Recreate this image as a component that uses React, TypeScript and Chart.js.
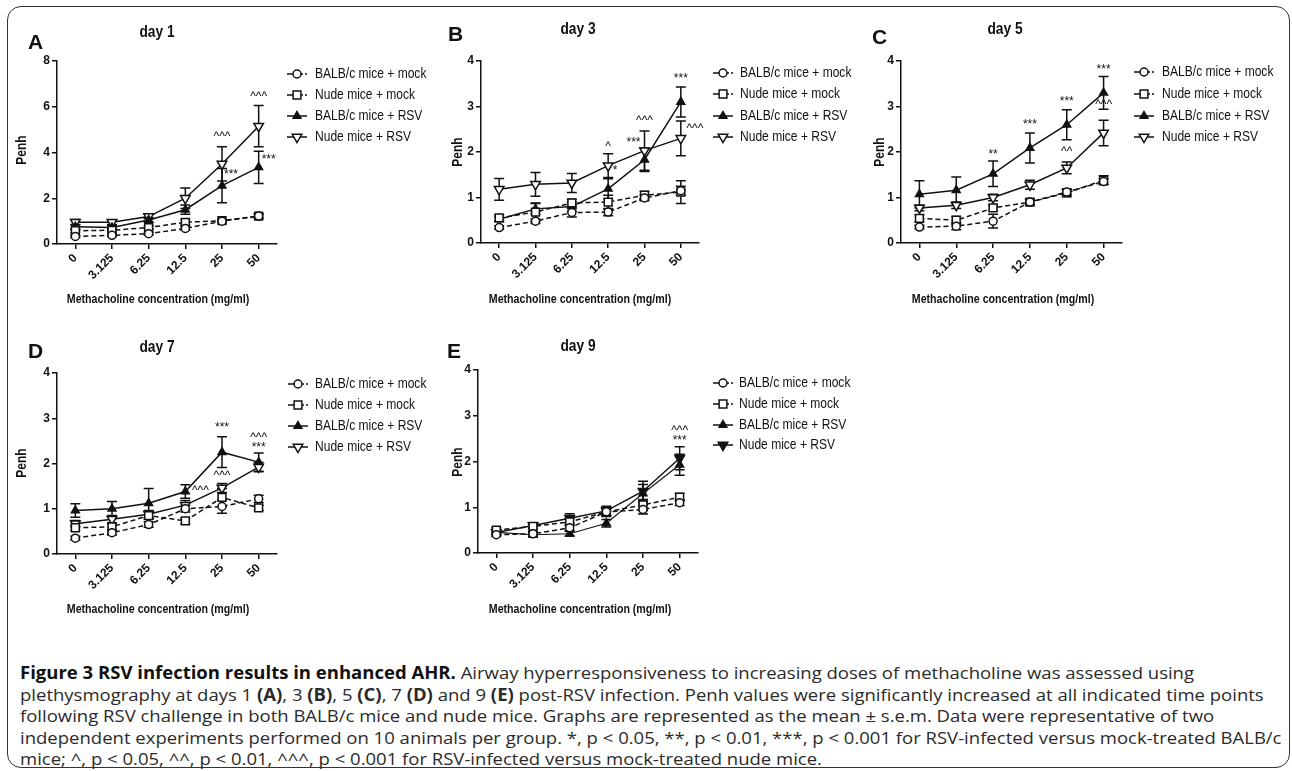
import React, { useEffect, useRef, useLayoutEffect, useState } from 'react';
import { Chart, registerables } from 'chart.js';

Chart.register(...registerables);

// ---------- data ----------
const doses = ['0', '3.125', '6.25', '12.5', '25', '50'];
const groupNames = ['BALB/c mice + mock', 'Nude mice + mock', 'BALB/c mice + RSV', 'Nude mice + RSV'];
const axisTitleX = 'Methacholine concentration (mg/ml)';
const axisTitleY = 'Penh';

// Day 1 (A)
const day1BalbMock = [0.33, 0.38, 0.45, 0.68, 1.0, 1.22];
const day1BalbMockSem = [0.05, 0.05, 0.06, 0.08, 0.06, 0.08];
const day1NudeMock = [0.58, 0.6, 0.72, 0.95, 1.02, 1.22];
const day1NudeMockSem = [0.08, 0.08, 0.08, 0.12, 0.06, 0.1];
const day1BalbRsv = [0.75, 0.72, 1.05, 1.5, 2.55, 3.35];
const day1BalbRsvSem = [0.1, 0.1, 0.1, 0.2, 0.75, 0.7];
const day1NudeRsv = [0.95, 0.95, 1.2, 2.0, 3.5, 5.15];
const day1NudeRsvSem = [0.12, 0.1, 0.1, 0.45, 0.75, 0.9];
const day1Notes = [
  { dose: 4, y: 4.68, text: '^^^', dx: 0 },
  { dose: 5, y: 6.42, text: '^^^', dx: 0 },
  { dose: 4, y: 3.05, text: '***', dx: 9 },
  { dose: 5, y: 3.68, text: '***', dx: 10 },
];

// Day 3 (B)
const day3BalbMock = [0.34, 0.48, 0.67, 0.68, 0.99, 1.15];
const day3BalbMockSem = [0.04, 0.05, 0.1, 0.08, 0.06, 0.1];
const day3NudeMock = [0.55, 0.68, 0.88, 0.9, 1.05, 1.12];
const day3NudeMockSem = [0.06, 0.2, 0.08, 0.15, 0.08, 0.25];
const day3BalbRsv = [0.52, 0.75, 0.8, 1.19, 1.83, 3.1];
const day3BalbRsvSem = [0.05, 0.12, 0.1, 0.22, 0.26, 0.33];
const day3NudeRsv = [1.18, 1.29, 1.32, 1.7, 2.03, 2.3];
const day3NudeRsvSem = [0.24, 0.26, 0.21, 0.26, 0.43, 0.38];
const day3Notes = [
  { dose: 5, y: 3.62, text: '***', dx: 0 },
  { dose: 4, y: 2.68, text: '^^^', dx: 0 },
  { dose: 5, y: 2.52, text: '^^^', dx: 14 },
  { dose: 4, y: 2.2, text: '***', dx: -11 },
  { dose: 3, y: 2.12, text: '^', dx: 0 },
  { dose: 3, y: 1.6, text: '*', dx: 7 },
];

// Day 5 (C)
const day5BalbMock = [0.35, 0.37, 0.48, 0.9, 1.12, 1.35];
const day5BalbMockSem = [0.04, 0.08, 0.15, 0.06, 0.06, 0.06];
const day5NudeMock = [0.54, 0.5, 0.77, 0.9, 1.1, 1.38];
const day5NudeMockSem = [0.08, 0.08, 0.06, 0.06, 0.08, 0.1];
const day5BalbRsv = [1.07, 1.16, 1.52, 2.09, 2.6, 3.3];
const day5BalbRsvSem = [0.3, 0.29, 0.28, 0.33, 0.33, 0.36];
const day5NudeRsv = [0.77, 0.83, 1.0, 1.28, 1.65, 2.42];
const day5NudeRsvSem = [0.06, 0.07, 0.07, 0.1, 0.13, 0.28];
const day5Notes = [
  { dose: 2, y: 1.93, text: '**', dx: 0 },
  { dose: 3, y: 2.59, text: '***', dx: 0 },
  { dose: 4, y: 3.1, text: '***', dx: 0 },
  { dose: 5, y: 3.8, text: '***', dx: 0 },
  { dose: 4, y: 2.0, text: '^^', dx: 0 },
  { dose: 5, y: 3.03, text: '^^^', dx: 0 },
];

// Day 7 (D)
const day7BalbMock = [0.35, 0.47, 0.65, 1.0, 1.05, 1.22];
const day7BalbMockSem = [0.04, 0.05, 0.06, 0.07, 0.15, 0.08];
const day7NudeMock = [0.58, 0.6, 0.85, 0.73, 1.25, 1.02];
const day7NudeMockSem = [0.06, 0.06, 0.08, 0.06, 0.2, 0.06];
const day7BalbRsv = [0.96, 1.0, 1.12, 1.38, 2.25, 2.03];
const day7BalbRsvSem = [0.15, 0.16, 0.33, 0.15, 0.34, 0.2];
const day7NudeRsv = [0.67, 0.77, 0.88, 1.08, 1.46, 1.92];
const day7NudeRsvSem = [0.07, 0.08, 0.08, 0.1, 0.1, 0.1];
const day7Notes = [
  { dose: 4, y: 2.8, text: '***', dx: 0 },
  { dose: 5, y: 2.58, text: '^^^', dx: 0 },
  { dose: 5, y: 2.36, text: '***', dx: 0 },
  { dose: 4, y: 1.72, text: '^^^', dx: 0 },
  { dose: 3, y: 1.4, text: '^^^', dx: 15 },
];

// Day 9 (E)
const day9BalbMock = [0.4, 0.42, 0.55, 0.9, 0.95, 1.1];
const day9BalbMockSem = [0.04, 0.05, 0.06, 0.08, 0.1, 0.06];
const day9NudeMock = [0.5, 0.58, 0.68, 0.9, 1.05, 1.22];
const day9NudeMockSem = [0.05, 0.05, 0.08, 0.1, 0.12, 0.08];
const day9BalbRsv = [0.45, 0.4, 0.42, 0.65, 1.3, 1.93];
const day9BalbRsvSem = [0.05, 0.05, 0.05, 0.08, 0.2, 0.23];
const day9NudeRsv = [0.45, 0.6, 0.76, 0.92, 1.35, 2.07];
const day9NudeRsvSem = [0.05, 0.06, 0.1, 0.1, 0.22, 0.25];
const day9Notes = [
  { dose: 5, y: 2.68, text: '^^^', dx: 0 },
  { dose: 5, y: 2.46, text: '***', dx: 0 },
];

// ---------- style / layout ----------
const INK = '#111';
const SANS = "'Liberation Sans', Arial, sans-serif";
const TICK_FONT = "'Liberation Sans Narrow', 'Liberation Sans', Arial, sans-serif";
const COND = 0.86;
// width of the widest caption line (line 4) in the reference
const captionWidestLine = 1262;

const markerStyles = [
  { shape: 'circle', rot: 0, r: 4, filled: false, dash: [5, 3] },
  { shape: 'rect', rot: 0, r: 5.5, filled: false, dash: [5, 3] },
  { shape: 'triangle', rot: 0, r: 4.5, filled: true, dash: [] },
  { shape: 'triangle', rot: 180, r: 5.5, filled: false, dash: [] },
];

const panels = [
  {
    letter: 'A', title: 'day 1', left: 10, top: 8, width: 420, height: 300,
    yAxisW: 47, padTop: 53, padRight: 153, xAxisH: 64, yMax: 8, yStep: 2,
    series: [day1BalbMock, day1NudeMock, day1BalbRsv, day1NudeRsv],
    sems: [day1BalbMockSem, day1NudeMockSem, day1BalbRsvSem, day1NudeRsvSem],
    notes: day1Notes,
    letterPos: [28, 43], titlePos: [157, 33], penhPos: [22, 150], xTitlePos: [158, 299],
    legendMarkX: 297, legendTextX: 315, legendY: [74, 95, 116, 137], filledNude: false,
  },
  {
    letter: 'B', title: 'day 3', left: 430, top: 8, width: 430, height: 300,
    yAxisW: 51, padTop: 53, padRight: 161, xAxisH: 65, yMax: 4, yStep: 1,
    series: [day3BalbMock, day3NudeMock, day3BalbRsv, day3NudeRsv],
    sems: [day3BalbMockSem, day3NudeMockSem, day3BalbRsvSem, day3NudeRsvSem],
    notes: day3Notes,
    letterPos: [448, 35], titlePos: [578, 30], penhPos: [458, 152], xTitlePos: [580, 299],
    legendMarkX: 723, legendTextX: 740, legendY: [73, 94, 116, 137], filledNude: false,
  },
  {
    letter: 'C', title: 'day 5', left: 860, top: 8, width: 430, height: 300,
    yAxisW: 41, padTop: 53, padRight: 168, xAxisH: 65, yMax: 4, yStep: 1,
    series: [day5BalbMock, day5NudeMock, day5BalbRsv, day5NudeRsv],
    sems: [day5BalbMockSem, day5NudeMockSem, day5BalbRsvSem, day5NudeRsvSem],
    notes: day5Notes,
    letterPos: [872, 38], titlePos: [1005, 30], penhPos: [880, 152], xTitlePos: [1003, 299],
    legendMarkX: 1144, legendTextX: 1162, legendY: [72, 94, 116, 137], filledNude: false,
  },
  {
    letter: 'D', title: 'day 7', left: 10, top: 318, width: 420, height: 310,
    yAxisW: 47, padTop: 55, padRight: 153, xAxisH: 74, yMax: 4, yStep: 1,
    series: [day7BalbMock, day7NudeMock, day7BalbRsv, day7NudeRsv],
    sems: [day7BalbMockSem, day7NudeMockSem, day7BalbRsvSem, day7NudeRsvSem],
    notes: day7Notes,
    letterPos: [28, 352], titlePos: [157, 348], penhPos: [22, 463], xTitlePos: [158, 609],
    legendMarkX: 298, legendTextX: 315, legendY: [384, 405, 426, 447], filledNude: false,
  },
  {
    letter: 'E', title: 'day 9', left: 430, top: 318, width: 430, height: 310,
    yAxisW: 48, padTop: 52, padRight: 162, xAxisH: 75, yMax: 4, yStep: 1,
    series: [day9BalbMock, day9NudeMock, day9BalbRsv, day9NudeRsv],
    sems: [day9BalbMockSem, day9NudeMockSem, day9BalbRsvSem, day9NudeRsvSem],
    notes: day9Notes,
    letterPos: [447, 352], titlePos: [578, 347], penhPos: [458, 462], xTitlePos: [580, 609],
    legendMarkX: 723, legendTextX: 739, legendY: [383, 404, 425, 445], filledNude: true,
  },
];

function drawText(ctx: CanvasRenderingContext2D, s: string, x: number, y: number, font: string, align: CanvasTextAlign, sx: number) {
  ctx.save();
  ctx.translate(x, y);
  ctx.scale(sx, 1);
  ctx.font = font;
  ctx.textAlign = align;
  ctx.textBaseline = 'middle';
  ctx.fillStyle = INK;
  ctx.fillText(s, 0, 0);
  ctx.restore();
}

function drawMarker(ctx: CanvasRenderingContext2D, i: number, x: number, y: number, filledNude: boolean) {
  const m = markerStyles[i];
  const filled = m.filled || (i === 3 && filledNude);
  ctx.save();
  ctx.setLineDash([]);
  ctx.lineWidth = 1.5;
  ctx.strokeStyle = INK;
  ctx.fillStyle = filled ? INK : '#fff';
  ctx.beginPath();
  if (m.shape === 'circle') {
    ctx.arc(x, y, m.r, 0, Math.PI * 2);
  } else if (m.shape === 'rect') {
    const h = m.r / Math.SQRT2;
    ctx.rect(x - h, y - h, 2 * h, 2 * h);
  } else {
    let a = (m.rot * Math.PI) / 180;
    ctx.moveTo(x + Math.sin(a) * m.r, y - Math.cos(a) * m.r);
    a += (2 * Math.PI) / 3;
    ctx.lineTo(x + Math.sin(a) * m.r, y - Math.cos(a) * m.r);
    a += (2 * Math.PI) / 3;
    ctx.lineTo(x + Math.sin(a) * m.r, y - Math.cos(a) * m.r);
    ctx.closePath();
  }
  ctx.fill();
  ctx.stroke();
  ctx.restore();
}

const errorBarPlugin = {
  id: 'errorBars',
  beforeDatasetsDraw(chart: any) {
    const ctx = chart.ctx as CanvasRenderingContext2D;
    const ys = chart.scales.y;
    ctx.save();
    ctx.strokeStyle = INK;
    ctx.lineWidth = 1.5;
    chart.data.datasets.forEach((ds: any, i: number) => {
      const meta = chart.getDatasetMeta(i);
      meta.data.forEach((pt: any, j: number) => {
        const v = ds.data[j];
        const e = ds.sem[j];
        const y1 = ys.getPixelForValue(v + e);
        const y2 = ys.getPixelForValue(v - e);
        ctx.beginPath();
        ctx.moveTo(pt.x, y1);
        ctx.lineTo(pt.x, y2);
        ctx.moveTo(pt.x - 5, y1);
        ctx.lineTo(pt.x + 5, y1);
        ctx.moveTo(pt.x - 5, y2);
        ctx.lineTo(pt.x + 5, y2);
        ctx.stroke();
      });
    });
    ctx.restore();
  },
};

function decorPlugin(p: any) {
  return {
    id: 'decor',
    afterDraw(chart: any) {
      const ctx = chart.ctx as CanvasRenderingContext2D;
      const ox = p.left;
      const oy = p.top;
      const xs = chart.scales.x;
      const ys = chart.scales.y;
      drawText(ctx, p.letter, p.letterPos[0] - ox, p.letterPos[1] - oy, 'bold 21px ' + SANS, 'left', 1);
      drawText(ctx, p.title, p.titlePos[0] - ox, p.titlePos[1] - oy, 'bold 16px ' + SANS, 'center', COND);
      ctx.save();
      ctx.translate(p.penhPos[0] - ox, p.penhPos[1] - oy);
      ctx.rotate(-Math.PI / 2);
      drawText(ctx, axisTitleY, 0, 0, 'bold 14px ' + SANS, 'center', COND);
      ctx.restore();
      drawText(ctx, axisTitleX, p.xTitlePos[0] - ox, p.xTitlePos[1] - oy, 'bold 13px ' + SANS, 'center', COND * 0.95);
      groupNames.forEach((name, i) => {
        const y = p.legendY[i] - oy;
        const cx = p.legendMarkX - ox;
        ctx.save();
        ctx.strokeStyle = INK;
        ctx.lineWidth = 1.5;
        ctx.beginPath();
        ctx.moveTo(cx - 10, y);
        ctx.lineTo(cx, y);
        ctx.stroke();
        ctx.setLineDash(i < 2 ? [2, 2] : []);
        ctx.beginPath();
        ctx.moveTo(cx, y);
        ctx.lineTo(cx + 10, y);
        ctx.stroke();
        ctx.restore();
        drawMarker(ctx, i, cx, y, p.filledNude);
        drawText(ctx, name, p.legendTextX - ox, y, '14px ' + SANS, 'left', COND);
      });
      p.notes.forEach((n: any) => {
        const x = xs.getPixelForValue(n.dose) + n.dx;
        const y = ys.getPixelForValue(n.y);
        drawText(ctx, n.text, x, y, '12px ' + SANS, 'center', 1);
      });
    },
  };
}

function makeConfig(p: any): any {
  const axisCommon = {
    grid: { display: true, drawOnChartArea: false, drawTicks: true, tickLength: 5, color: INK, lineWidth: 1.5, offset: false },
    border: { display: true, color: INK, width: 1.5 },
  };
  return {
    type: 'line',
    data: {
      labels: doses,
      datasets: p.series.map((vals: number[], i: number) => {
        const m = markerStyles[i];
        const filled = m.filled || (i === 3 && p.filledNude);
        return {
          label: groupNames[i],
          data: vals,
          sem: p.sems[i],
          borderColor: INK,
          borderWidth: i === 2 && p.filledNude ? 1.1 : 1.5,
          borderDash: m.dash,
          pointStyle: m.shape,
          pointRotation: m.rot,
          pointRadius: m.r,
          pointBorderWidth: 1.5,
          pointBorderColor: INK,
          pointBackgroundColor: filled ? INK : '#fff',
          fill: false,
          tension: 0,
        };
      }),
    },
    options: {
      responsive: false,
      animation: false,
      devicePixelRatio: 1,
      layout: { padding: { top: p.padTop, right: p.padRight, left: 0, bottom: 0 } },
      plugins: { legend: { display: false }, tooltip: { enabled: false }, title: { display: false } },
      scales: {
        x: {
          type: 'category',
          offset: true,
          ...axisCommon,
          ticks: { color: INK, font: { family: TICK_FONT, size: 12, weight: 'bold' }, maxRotation: 45, minRotation: 45, autoSkip: false, padding: 2 },
          afterFit: (s: any) => { s.height = p.xAxisH; },
        },
        y: {
          min: 0,
          max: p.yMax,
          ...axisCommon,
          ticks: { stepSize: p.yStep, color: INK, font: { family: TICK_FONT, size: 12, weight: 'bold' }, padding: 2 },
          afterFit: (s: any) => { s.width = p.yAxisW; },
        },
      },
    },
    plugins: [errorBarPlugin, decorPlugin(p)],
  };
}

function Panel({ p }: { p: any }) {
  const ref = useRef<HTMLCanvasElement>(null);
  useEffect(() => {
    const chart = new Chart(ref.current as HTMLCanvasElement, makeConfig(p));
    return () => chart.destroy();
  }, [p]);
  return (
    <canvas
      ref={ref}
      width={p.width}
      height={p.height}
      style={{ position: 'absolute', left: p.left, top: p.top, width: p.width, height: p.height }}
    />
  );
}

function Caption() {
  const ref = useRef<HTMLDivElement>(null);
  const [k, setK] = useState(1);
  useLayoutEffect(() => {
    const el = ref.current;
    if (!el) return;
    const widest = Math.max(...Array.from(el.children).map((c) => (c as HTMLElement).offsetWidth));
    if (widest > 0) setK(captionWidestLine / widest);
  }, []);
  const lineStyle: React.CSSProperties = { width: 'max-content', whiteSpace: 'nowrap' };
  return (
    <div
      ref={ref}
      style={{
        position: 'absolute', left: 20, top: 662, fontFamily: "'Open Sans', sans-serif", fontSize: 17,
        lineHeight: '21.5px', color: '#2a2a2a', transformOrigin: '0 0', transform: `scaleX(${k})`,
      }}
    >
      <div style={lineStyle}><b style={{ color: '#111' }}>Figure 3 RSV infection results in enhanced AHR.</b> Airway hyperresponsiveness to increasing doses of methacholine was assessed using</div>
      <div style={lineStyle}>plethysmography at days 1 <b>(A)</b>, 3 <b>(B)</b>, 5 <b>(C)</b>, 7 <b>(D)</b> and 9 <b>(E)</b> post-RSV infection. Penh values were significantly increased at all indicated time points</div>
      <div style={lineStyle}>following RSV challenge in both BALB/c mice and nude mice. Graphs are represented as the mean ± s.e.m. Data were representative of two</div>
      <div style={lineStyle}>independent experiments performed on 10 animals per group. *, p &lt; 0.05, **, p &lt; 0.01, ***, p &lt; 0.001 for RSV-infected versus mock-treated BALB/c</div>
      <div style={lineStyle}>mice; ^, p &lt; 0.05, ^^, p &lt; 0.01, ^^^, p &lt; 0.001 for RSV-infected versus mock-treated nude mice.</div>
    </div>
  );
}

export default function App() {
  return (
    <div style={{ position: 'absolute', left: 0, top: 0, width: 1292, height: 771, background: '#fff', overflow: 'hidden' }}>
      <div
        style={{
          position: 'absolute', left: 7, top: 6, width: 1283, height: 762, boxSizing: 'border-box',
          border: '1.5px solid #333', borderRadius: 14,
        }}
      />
      {panels.map((p) => (
        <Panel key={p.letter} p={p} />
      ))}
      <Caption />
    </div>
  );
}
